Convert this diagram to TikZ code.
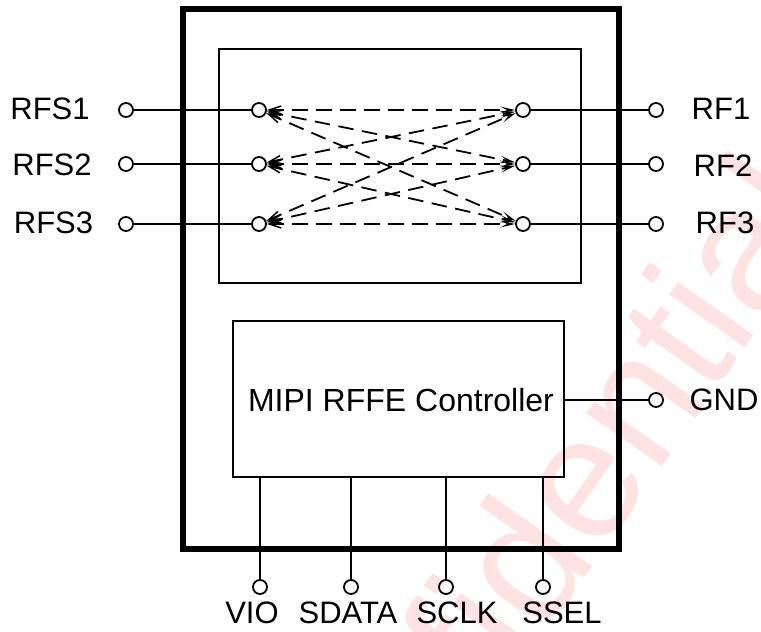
\documentclass[tikz,border=0pt]{standalone}
\usepackage{fontspec}
\setmainfont{Liberation Sans}
\usetikzlibrary{arrows.meta, positioning}

\tikzset{
  pin/.style={draw, circle, line width=1.8pt, minimum size=14pt, inner sep=0pt},
  block/.style={draw, rectangle, line width=1.7pt, inner sep=0pt},
  wire/.style={line width=1.8pt},
  path/.style={wire, dash pattern=on 15.5pt off 8.5pt, dash phase=2pt, {Straight Barb[length=12pt,width=8pt,line width=1.5pt]}-{Stealth[length=15pt,width=7pt,inset=7pt]}},
  pinlabel/.style={inner sep=0pt, font=\fontsize{31}{36}\selectfont}
}

\begin{document}
\begin{tikzpicture}[x=1pt, y=-1pt, font=\fontsize{32}{36}\selectfont]
\useasboundingbox (0,0) rectangle (761,632);

\begin{scope}
\clip (0,0) rectangle (761,632);
\node[rotate=55, anchor=base west, inner sep=0pt, text=red!11, font=\fontsize{175}{190}\selectfont] (MARK) at (309,971) {Confidential};
\end{scope}

\node[draw, rectangle, line width=5.5pt, minimum width=436pt, minimum height=540pt] (CHIP) at (401,279) {};
\node[block, minimum width=362pt, minimum height=234pt] (SW) at (400,166) {};
\node[block, minimum width=331pt, minimum height=156pt] (CTRL) at (398.5,399) {};
\node[inner sep=0pt] (CTRLtext) at (401,400) {MIPI RFFE Controller};

\node[pin] (RFSa) at (126,110) {};
\node[pin] (RFSb) at (126,164) {};
\node[pin] (RFSc) at (126,224) {};
\node[pin] (La) at (259,110) {};
\node[pin] (Lb) at (259,164) {};
\node[pin] (Lc) at (259,224) {};
\node[pin] (Ra) at (523,110) {};
\node[pin] (Rb) at (523,164) {};
\node[pin] (Rc) at (523,224) {};
\node[pin] (RFa) at (656,110) {};
\node[pin] (RFb) at (656,164) {};
\node[pin] (RFc) at (656,224) {};
\node[pin] (GNDpin) at (656,400) {};

\node[pin] (VIOpin) at (260,587) {};
\node[pin] (SDATApin) at (351,587) {};
\node[pin] (SCLKpin) at (446,587) {};
\node[pin] (SSELpin) at (543,587) {};

\node[pinlabel] (RFS1) at (50,109) {RFS1};
\node[pinlabel] (RFS2) at (52,165) {RFS2};
\node[pinlabel] (RFS3) at (53.5,223) {RFS3};
\node[pinlabel] (RF1) at (721,109) {RF1};
\node[pinlabel] (RF2) at (723,166) {RF2};
\node[pinlabel] (RF3) at (725,223) {RF3};
\node[pinlabel] (GND) at (724,400) {GND};
\node[pinlabel] (VIO) at (252,613) {VIO};
\node[pinlabel] (SDATA) at (348,613) {SDATA};
\node[pinlabel] (SCLK) at (457,613) {SCLK};
\node[pinlabel] (SSEL) at (562,613) {SSEL};

\foreach \i in {a,b,c} {
  \draw[wire] (RFS\i) -- (L\i);
  \draw[wire] (R\i) -- (RF\i);
  \foreach \j in {a,b,c}
    \draw[path] (L\i) -- (R\j);
}

\draw[wire] (CTRL.east |- GNDpin) -- (GNDpin);
\foreach \p in {VIOpin, SDATApin, SCLKpin, SSELpin}
  \draw[wire] (CTRL.south -| \p) -- (\p);

\end{tikzpicture}
\end{document}
